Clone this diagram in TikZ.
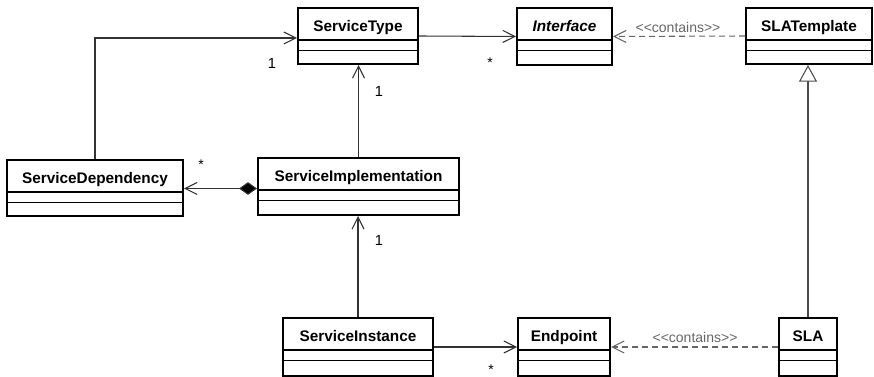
\documentclass[tikz,border=0pt]{standalone}
\usepackage{fontspec}
\setmainfont{Liberation Sans}
\usetikzlibrary{arrows.meta,calc,fit}
\tikzset{
  x=0.75pt, y=-0.75pt,
  classbox/.style={draw=black, line width=1.5pt, inner sep=0pt, fill=white},
  classname/.style={font=\bfseries\fontsize{11.5}{13}\selectfont, inner sep=0pt, anchor=base},
  divider/.style={draw=black, line width=1pt},
  assoc/.style={draw=black!80, line width=0.8pt, -{Straight Barb[length=9pt,width=9pt,line width=0.8pt]}},
  depend/.style={draw=black!60, line width=0.8pt, dash pattern=on 4.5pt off 3pt, -{Straight Barb[length=9pt,width=9pt,line width=0.8pt]}},
  compose/.style={draw=black!80, line width=0.8pt, {Diamond[length=13.5pt,width=9.5pt,fill=black]}-{Straight Barb[length=9pt,width=9pt,line width=0.8pt]}},
  general/.style={draw=black!70, line width=0.8pt, -{Triangle[open,length=12.5pt,width=13.5pt,fill=white,line width=0.8pt]}},
  mult/.style={font=\fontsize{11}{13}\selectfont, inner sep=0pt},
  star/.style={font=\fontsize{10.5}{12}\selectfont, inner sep=0pt, anchor=base},
  stereo/.style={font=\fontsize{10.5}{12}\selectfont, text=black!60, inner sep=0pt},
}
\newcommand\umlclass[6]{%
  \coordinate (#1-a) at (#2,#3);
  \coordinate (#1-b) at (#4,#5);
  \node[classbox, fit=(#1-a)(#1-b)] (#1) {};
  \node[classname] (#1-t) at ($(#1.north)+(0,25)$) {#6};
  \draw[divider] ($(#1.north west)+(0,33)$) -- ($(#1.north east)+(0,33)$);
  \draw[divider] ($(#1.north west)+(0,43.5)$) -- ($(#1.north east)+(0,43.5)$);
}
\newcommand\contains{<\kern0pt<contains>\kern0pt>}
\begin{document}
\begin{tikzpicture}
\useasboundingbox (0,0) rectangle (874,377);
\umlclass{st}{298}{8}{418}{64}{ServiceType}
\umlclass{if}{517}{8}{612}{65}{\itshape Interface}
\umlclass{slat}{746}{8}{872}{64}{SLATemplate}
\umlclass{sd}{7}{160}{183}{216}{ServiceDependency}
\umlclass{si}{258}{158}{459}{215}{ServiceImplementation}
\umlclass{sinst}{283}{318}{433}{376}{ServiceInstance}
\umlclass{ep}{518}{318}{610}{376}{Endpoint}
\umlclass{sla}{779}{318}{837}{376}{SLA}

% associations
\draw[assoc] (sd.north) |- ($(st.west)+(0,2)$);
\draw[assoc] (si.north) -- (si.north |- st.south);
\draw[assoc] (st.east) -- (if.west);
\draw[compose] ($(si.west)+(0,2)$) -- (sd.east |- {$(si.west)+(0,2)$});
\draw[assoc] (sinst.north) -- (sinst.north |- si.south);
\draw[assoc] (sinst.east) -- (ep.west);
% dependencies
\draw[depend] (slat.west) -- (if.east);
\draw[depend] (sla.west) -- (ep.west -| ep.east);
% generalization
\draw[general] (sla.north) -- (sla.north |- slat.south);

% multiplicities
\node[mult] (m1) at (272,63) {1};
\node[mult] (m2) at (379,91) {1};
\node[star] (m3) at (201,170) {*};
\node[star] (m4) at (490,68) {*};
\node[mult] (m5) at (379,240) {1};
\node[star] (m6) at (491,374) {*};

% stereotypes
\node[stereo] (c1) at (678,28) {\contains};
\node[stereo] (c2) at (695,337) {\contains};
\end{tikzpicture}
\end{document}
